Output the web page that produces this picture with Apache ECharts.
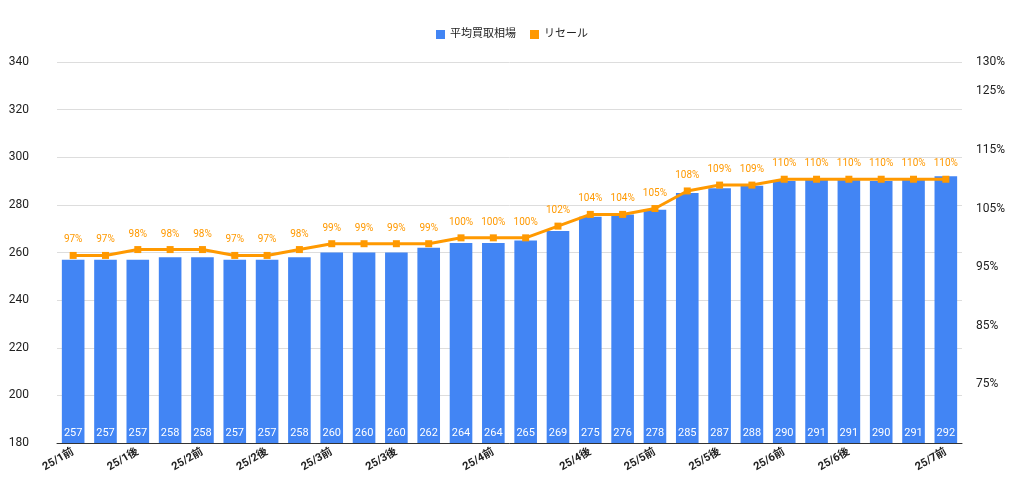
<!DOCTYPE html>
<html><head><meta charset="utf-8">
<script src="https://cdn.jsdelivr.net/npm/echarts@6/dist/echarts.min.js"></script>
<style>html,body{margin:0;padding:0;background:#fff}#c{width:1024px;height:496px}</style>
</head><body><div id="c"></div>
<script>
const categories = ['25/1前','','25/1後','','25/2前','','25/2後','','25/3前','','25/3後','','','25/4前','','','25/4後','','25/5前','','25/5後','','25/6前','','25/6後','','','25/7前'];
const avgPrice = [257,257,257,258,258,257,257,258,260,260,260,262,264,264,265,269,275,276,278,285,287,288,290,291,291,290,291,292];
const resale = [97,97,98,98,98,97,97,98,99,99,99,99,100,100,100,102,104,104,105,108,109,109,110,110,110,110,110,110];
const chart = echarts.init(document.getElementById('c'));
chart.setOption({
  animation:false,
  textStyle:{fontFamily:'Roboto, "Noto Sans CJK JP", sans-serif'},
  legend:{top:24,left:'center',itemWidth:9,itemHeight:9,itemGap:14,textStyle:{fontSize:11,color:'#222'},
    data:[{name:'平均買取相場',icon:'rect'},{name:'リセール',icon:'rect'}]},
  grid:{left:57,right:62,top:62,bottom:53},
  xAxis:{type:'category',data:categories,
    axisLine:{lineStyle:{color:'#333'}},axisTick:{show:false},
    axisLabel:{interval:0,rotate:30,fontSize:11,fontWeight:'bold',color:'#222',margin:8}},
  yAxis:[
    {type:'value',min:180,max:340,interval:20,axisLine:{show:false},axisTick:{show:false},
     axisLabel:{fontSize:12,color:'#222',margin:28},splitLine:{lineStyle:{color:'#ddd'}}},
    {type:'value',min:65,max:130,interval:10,axisLine:{show:false},axisTick:{show:false},
     axisLabel:{fontSize:12,color:'#222',showMinLabel:false,formatter:'{value}%',margin:14},splitLine:{show:false}}
  ],
  series:[
    {name:'平均買取相場',type:'bar',data:avgPrice,barWidth:'70%',itemStyle:{color:'#4285F4'},
     label:{show:true,position:'insideBottom',color:'#fff',fontSize:11,distance:4}},
    {name:'リセール',type:'line',yAxisIndex:1,data:resale,symbol:'rect',symbolSize:7,
     lineStyle:{color:'#FF9900',width:3},itemStyle:{color:'#FF9900'},
     label:{show:true,position:'top',color:'#FF9900',fontSize:10,formatter:'{c}%',distance:7}}
  ]
});
</script></body></html>
